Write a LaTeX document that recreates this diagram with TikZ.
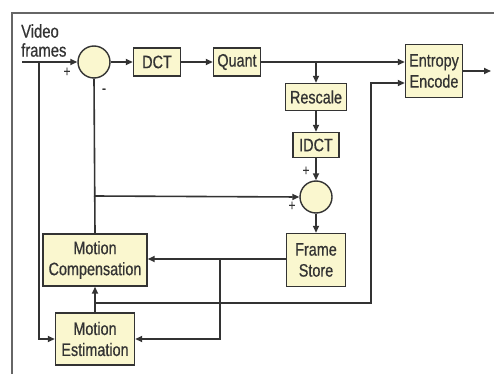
\documentclass[tikz,border=0pt]{standalone}
\usepackage{fontspec}
\setmainfont{Liberation Sans}[FakeStretch=0.80,FakeBold=0.6]
\usetikzlibrary{arrows.meta}
\definecolor{boxfill}{HTML}{FAF7CF}
\definecolor{ink}{HTML}{333333}
\begin{document}
\begin{tikzpicture}[x=1pt,y=-1pt,
  blk/.style={draw=ink,line width=1.4pt,fill=boxfill,inner sep=0pt,align=center,
    font=\fontsize{18}{21}\selectfont,text=ink},
  sumc/.style={draw=ink,line width=1.4pt,fill=boxfill,circle,inner sep=0pt,minimum size=32pt},
  conn/.style={draw=ink,line width=1.6pt},
  arr/.style={conn,-{Triangle[length=7pt,width=6pt]}},
  sgn/.style={font=\fontsize{15}{15}\selectfont,text=ink,inner sep=0pt}]
\useasboundingbox (0,0) rectangle (494,374);
\draw[draw=gray!80!black,line width=1.3pt] (12,374) -- (12,13) -- (494,13);
\node[font=\fontsize{18.5}{19}\selectfont,text=ink,align=left,anchor=south west,inner sep=0pt] (vf) at (21,57) {Video\\frames};
\node[sumc] (sub) at (94,62) {};
\node[blk,minimum width=47pt,minimum height=28pt] (dct) at (157,62) {DCT};
\node[blk,minimum width=47pt,minimum height=28pt] (quant) at (237,62) {Quant};
\node[blk,minimum width=57pt,minimum height=53pt] (ent) at (434,71) {Entropy\\Encode};
\node[blk,minimum width=61pt,minimum height=27pt] (resc) at (316,97) {Rescale};
\node[blk,minimum width=46pt,minimum height=25pt] (idct) at (316,145) {IDCT};
\node[sumc] (add) at (316,197) {};
\node[blk,minimum width=59pt,minimum height=53pt] (fs) at (316,260) {Frame\\Store};
\node[blk,minimum width=104pt,minimum height=52pt] (mc) at (95,260) {Motion\\Compensation};
\node[blk,minimum width=79pt,minimum height=52pt] (me) at (95,339) {Motion\\Estimation};
\node[sgn] (p1) at (67,72) {+};
\node[sgn] (m1) at (104,91) {-};
\node[sgn] (p2) at (306,171) {+};
\node[sgn] (p3) at (292,206) {+};
\coordinate (vin) at (22,62);
\coordinate (vbr) at (39,62);
\coordinate (qbr) at (316,62);
\coordinate (sbr) at (94,196);
\coordinate (fbr) at (220,259);
\coordinate (mbr) at (94,303);
\coordinate (rv) at (371,303);
\coordinate (rt) at (371,83);
\coordinate (out) at (491,71);
\draw[arr] (vin) -- (sub.west);
\draw[arr] (vbr) |- (me.west);
\draw[arr] (sub) -- (dct);
\draw[arr] (dct) -- (quant);
\draw[arr] (quant.east) -- (quant.east -| ent.west);
\draw[arr] (qbr) -- (resc.north);
\draw[arr] (resc) -- (idct);
\draw[arr] (idct) -- (add);
\draw[arr] (add) -- (fs);
\draw[conn] (sub.south) -- (mc.north);
\draw[arr] (sbr) -- (add.west);
\draw[arr] (fs.west |- fbr) -- (fbr -| mc.east);
\draw[arr] (fbr) |- (me.east);
\draw[arr] (me.north) -- (mc.south);
\draw[arr] (mbr) -- (rv) -- (rt) -- (rt -| ent.west);
\draw[arr] (ent.east) -- (out);
\end{tikzpicture}
\end{document}
